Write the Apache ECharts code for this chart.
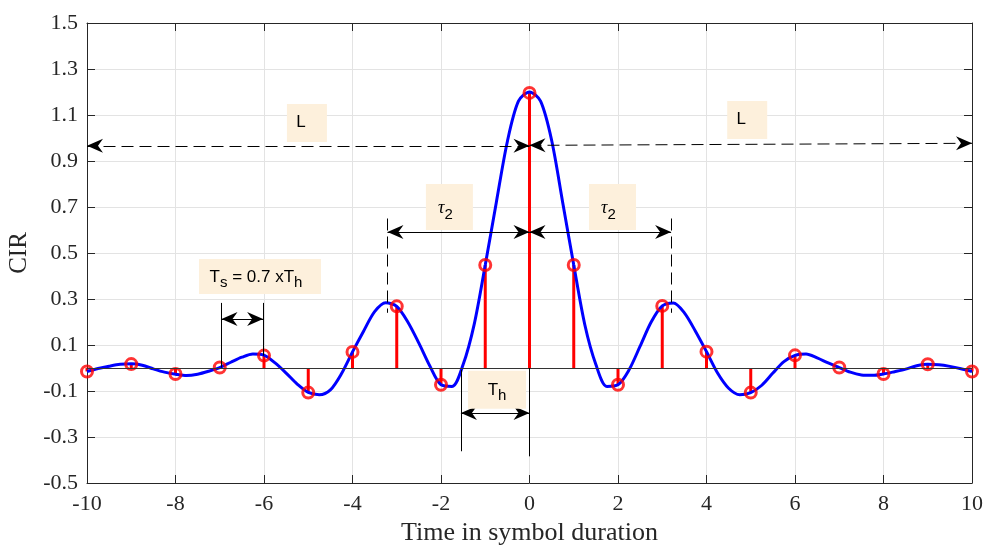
<!DOCTYPE html>
<html>
<head>
<meta charset="utf-8">
<script src="https://cdn.jsdelivr.net/npm/echarts@6/dist/echarts.min.js"></script>
<style>
  html, body { margin: 0; padding: 0; background: #fff; }
  #main { width: 984px; height: 546px; }
</style>
</head>
<body>
<div id="main"></div>
<script>
// stem samples (one per symbol)
var symbolTimes = [-10, -9, -8, -7, -6, -5, -4, -3, -2, -1, 0, 1, 2, 3, 4, 5, 6, 7, 8, 9, 10];
var cirSamples = [-0.015, 0.017, -0.026, 0.002, 0.054, -0.107, 0.070, 0.268, -0.073, 0.448, 1.196,
                  0.448, -0.073, 0.270, 0.071, -0.107, 0.055, 0.002, -0.026, 0.016, -0.015];

// continuous pulse (blue curve)
var pulseTimes = [-10, -9.75, -9.5, -9.25, -9, -8.75, -8.5, -8.25, -8, -7.75, -7.5, -7.25, -7,
                  -6.75, -6.5, -6.25, -6, -5.75, -5.5, -5.25, -5, -4.75, -4.5, -4.25, -4,
                  -3.75, -3.5, -3.25, -3, -2.75, -2.5, -2.25, -2, -1.75, -1.5, -1.25, -1,
                  -0.75, -0.5, -0.25, 0, 0.25, 0.5, 0.75, 1, 1.25, 1.5, 1.75, 2,
                  2.25, 2.5, 2.75, 3, 3.25, 3.5, 3.75, 4, 4.25, 4.5, 4.75, 5,
                  5.25, 5.5, 5.75, 6, 6.25, 6.5, 6.75, 7, 7.25, 7.5, 7.75, 8,
                  8.25, 8.5, 8.75, 9, 9.25, 9.5, 9.75, 10];
var pulseValues = [-0.015, -0.002, 0.008, 0.016, 0.018, 0.012, -0.004, -0.018, -0.027, -0.033, -0.027, -0.014, 0.002,
                   0.025, 0.047, 0.061, 0.056, 0.022, -0.022, -0.070, -0.106, -0.116, -0.095, -0.025, 0.070,
                   0.160, 0.245, 0.284, 0.268, 0.200, 0.108, 0.008, -0.073, -0.080, 0.015, 0.190, 0.448,
                   0.720, 0.985, 1.160, 1.200, 1.160, 0.990, 0.720, 0.448, 0.188, 0.015, -0.080, -0.073,
                   -0.008, 0.095, 0.200, 0.270, 0.283, 0.240, 0.160, 0.071, -0.022, -0.088, -0.116, -0.107,
                   -0.075, -0.022, 0.028, 0.055, 0.061, 0.044, 0.022, 0.002, -0.018, -0.030, -0.032, -0.026,
                   -0.016, -0.005, 0.010, 0.016, 0.014, 0.007, -0.003, -0.015];

var serif = '"Liberation Serif", "Times New Roman", serif';
var sans = '"Liberation Sans", Arial, sans-serif';
var axisColor = '#262626';
// arrowhead: tip at the centre of its square box, so the tip lands on the end point
var head = 'path://M-16,-16M16,16M0,0L7,16L0,11L-7,16Z';

var stems = symbolTimes.map(function (t, i) { return [t, cirSamples[i]]; });
var pulse = pulseTimes.map(function (t, i) { return [t, pulseValues[i]]; });

function arrow(x1, y1, x2, y2, dashed, heads) {
    return [
        { coord: [x1, y1], symbol: heads[0] ? head : 'none', symbolSize: 32,
          lineStyle: { color: '#000', width: 1, type: dashed ? [12, 6] : 'solid' } },
        { coord: [x2, y2], symbol: heads[1] ? head : 'none', symbolSize: 32 }
    ];
}
function box(x, y, w, h, text, offset) {
    return {
        coord: [x, y], symbol: 'rect', symbolSize: [w, h],
        itemStyle: { color: '#fdf0dc' },
        label: { show: true, position: 'inside', formatter: text, offset: offset || [0, 0] }
    };
}

var rich = {
    m: { fontFamily: sans, fontSize: 17, color: '#000', verticalAlign: 'bottom', padding: [0, 0, 5, 0] },
    s: { fontFamily: sans, fontSize: 15, color: '#000', verticalAlign: 'bottom' },
    tau: { fontFamily: serif, fontSize: 18, fontStyle: 'italic', color: '#000', verticalAlign: 'bottom', padding: [0, 0, 5, 0] }
};

var chart = echarts.init(document.getElementById('main'));
var option = {
    animation: false,
    grid: { left: 87, right: 12, top: 23, bottom: 63, outerBoundsMode: 'none', containLabel: false },
    xAxis: [{
        type: 'value', min: -10, max: 10, interval: 2,
        name: 'Time in symbol duration', nameLocation: 'middle', nameGap: 37,
        nameTextStyle: { fontFamily: serif, fontSize: 26, color: axisColor },
        axisLine: { onZero: false, lineStyle: { color: axisColor, width: 1 } },
        axisTick: { inside: true, length: 8, lineStyle: { color: axisColor } },
        axisLabel: { fontFamily: serif, fontSize: 22, color: axisColor, margin: 10 },
        splitLine: { show: true, lineStyle: { color: '#e3e3e3', width: 1 } }
    }, {
        type: 'value', min: -10, max: 10, interval: 2, position: 'top',
        axisLine: { onZero: false, lineStyle: { color: axisColor, width: 1 } },
        axisTick: { inside: true, length: 8, lineStyle: { color: axisColor } },
        axisLabel: { show: false }, splitLine: { show: false }
    }],
    yAxis: [{
        type: 'value', min: -0.5, max: 1.5, interval: 0.2,
        name: 'CIR', nameLocation: 'middle', nameGap: 55, nameRotate: 90,
        nameTextStyle: { fontFamily: serif, fontSize: 25, color: axisColor },
        axisLine: { show: true, onZero: false, lineStyle: { color: axisColor, width: 1 } },
        axisTick: { show: true, inside: true, length: 8, lineStyle: { color: axisColor } },
        axisLabel: { fontFamily: serif, fontSize: 22, color: axisColor, margin: 9,
                     formatter: function (v) { return v.toFixed(1); } },
        splitLine: { show: true, lineStyle: { color: '#e3e3e3', width: 1 } }
    }, {
        type: 'value', min: -0.5, max: 1.5, interval: 0.2, position: 'right',
        axisLine: { show: true, onZero: false, lineStyle: { color: axisColor, width: 1 } },
        axisTick: { show: true, inside: true, length: 8, lineStyle: { color: axisColor } },
        axisLabel: { show: false }, splitLine: { show: false }
    }],
    series: [{
        name: 'stems',
        type: 'custom',
        z: 2,
        data: stems,
        encode: { x: 0, y: 1 },
        renderItem: function (params, api) {
            var p0 = api.coord([api.value(0), 0]);
            var p1 = api.coord([api.value(0), api.value(1)]);
            return {
                type: 'line',
                shape: { x1: p0[0], y1: p0[1], x2: p1[0], y2: p1[1] },
                style: { stroke: '#ff0000', lineWidth: 3 }
            };
        },
        markLine: {
            silent: true, symbol: 'none', label: { show: false },
            lineStyle: { color: '#333333', width: 1.2, type: 'solid' },
            data: [{ yAxis: 0 }]
        }
    }, {
        name: 'pulse',
        type: 'line',
        z: 3,
        data: pulse,
        showSymbol: false,
        smooth: 0.3,
        lineStyle: { color: '#0000ff', width: 3 }
    }, {
        name: 'samples',
        type: 'scatter',
        z: 4,
        data: stems,
        symbol: 'circle',
        symbolSize: 11,
        itemStyle: { color: 'rgba(0,0,0,0)', borderColor: '#ff0000', borderWidth: 3 }
    }, {
        name: 'notes',
        type: 'scatter',
        z: 5,
        data: [],
        markLine: {
            silent: true,
            label: { show: false },
            data: [
                arrow(0, 0.966, -10, 0.966, true, [1, 1]),
                arrow(0, 0.968, 10, 0.977, true, [1, 1]),
                arrow(-3.21, 0.591, 0, 0.591, false, [1, 1]),
                arrow(0, 0.591, 3.2, 0.591, false, [1, 1]),
                arrow(-3.21, 0.65, -3.21, 0.24, true, [0, 0]),
                arrow(3.2, 0.65, 3.2, 0.24, true, [0, 0]),
                arrow(-1.55, -0.008, -1.55, -0.362, false, [0, 0]),
                arrow(0, 0, 0, -0.384, false, [0, 0]),
                arrow(-1.55, -0.196, 0, -0.196, false, [1, 1]),
                arrow(-6.96, 0.283, -6.96, 0.002, false, [0, 0]),
                arrow(-6.02, 0.283, -6.02, 0.054, false, [0, 0]),
                arrow(-6.96, 0.213, -6.02, 0.213, false, [1, 1])
            ]
        },
        markPoint: {
            silent: true,
            label: { rich: rich },
            data: [
                box(-5.03, 1.065, 40, 38, '{m|L}', [-6, 2]),
                box(4.92, 1.078, 40, 38, '{m|L}', [-6, 2]),
                box(-1.81, 0.70, 47, 46, '{tau|τ}{s|2}', [-4, 4]),
                box(1.876, 0.70, 47, 46, '{tau|τ}{s|2}', [-4, 4]),
                box(-6.09, 0.398, 122, 35, '{m|T}{s|s}{m| = 0.7 xT}{s|h}', [-4, 3]),
                box(-0.734, -0.095, 58, 38, '{m|T}{s|h}', [0, 3])
            ]
        }
    }]
};
chart.setOption(option);
</script>
</body>
</html>
